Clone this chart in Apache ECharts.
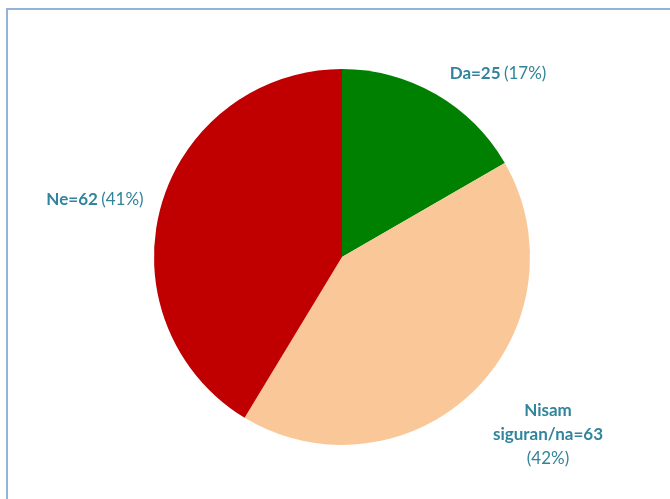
<!DOCTYPE html>
<html><head><meta charset="utf-8">
<script src="https://cdn.jsdelivr.net/npm/echarts@6/dist/echarts.min.js"></script>
<style>
html,body{margin:0;padding:0;background:#fff;}
#frame{position:absolute;left:6px;top:8px;width:664px;height:491px;border-left:2px solid #95B3D7;border-top:2px solid #95B3D7;}
#c{position:absolute;left:0;top:0;width:670px;height:499px;}
</style></head>
<body>
<div id="frame"></div>
<div id="c"></div>
<script>
const categories = ['Da', 'Nisam siguran/na', 'Ne'];
const values = [25, 63, 62];
const percents = ['17%', '42%', '41%'];
const colors = ['#008000', '#FAC898', '#C00000'];

const labelTexts = [
  '{b|Da=25} {n|(17%)}',
  '{b|Nisam}\n{b|siguran/na=63}\n{n|(42%)}',
  '{b|Ne=62} {n|(41%)}'
];
const labelPos = [[498, 74], [548, 435], [95, 200]];

const chart = echarts.init(document.getElementById('c'), null, {renderer: 'canvas'});
chart.setOption({
  animation: false,
  backgroundColor: 'transparent',
  series: [{
    type: 'pie',
    center: [342, 257],
    radius: 188,
    startAngle: 90,
    clockwise: true,
    data: categories.map((c, i) => ({
      name: c, value: values[i],
      itemStyle: {color: colors[i]},
      label: {formatter: labelTexts[i]}
    })),
    itemStyle: {borderColor: '#fff', borderWidth: 0},
    label: {
      show: true,
      position: 'outside',
      align: 'center',
      lineHeight: 24,
      rich: {
        b: {fontFamily: 'Lato', fontWeight: 'bold', fontSize: 17, color: '#31849B', lineHeight: 24, align: 'center'},
        n: {fontFamily: 'Lato', fontSize: 17, color: '#31849B', lineHeight: 24, align: 'center'}
      }
    },
    labelLine: {show: false},
    labelLayout: function (p) {
      const pos = labelPos[p.dataIndex];
      return {x: pos[0], y: pos[1], align: 'center', verticalAlign: 'middle'};
    }
  }]
});
</script>
</body></html>
